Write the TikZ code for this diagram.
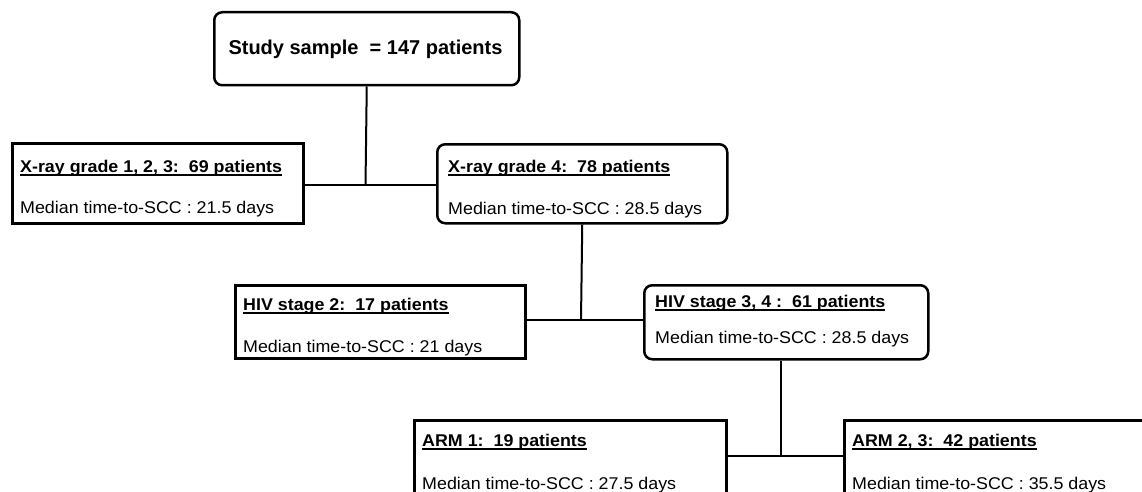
\documentclass[tikz,border=0pt]{standalone}
\usepackage{fontspec}
\setmainfont{Liberation Sans}
\newfontfamily\bodyf[FakeStretch=1.05]{Liberation Sans}
\newcommand\ulx[1]{\setbox0\hbox{#1}\rlap{\rule[-3.6pt]{\wd0}{1.3pt}}\box0}
\tikzset{
  sqbox/.style={draw, line width=2.5pt, inner sep=0pt, anchor=north west},
  rdbox/.style={sqbox, rounded corners=8pt},
  txt/.style={anchor=base west, inner sep=0pt, font=\bodyf\fontsize{17}{20}\selectfont},
  head/.style={txt, font=\bodyf\bfseries\fontsize{17}{20}\selectfont},
  link/.style={line width=2pt},
}
\begin{document}
\begin{tikzpicture}[x=1pt, y=-1pt]
\path[use as bounding box] (0,0) rectangle (1142,492);
\clip (0,0) rectangle (1142,492);
\fill[white] (0,0) rectangle (1142,492);

% boxes
\node[rdbox, minimum width=305pt, minimum height=73pt] (top) at (213,11) {};
\node[sqbox, minimum width=291pt, minimum height=80pt] (xr123) at (11,142) {};
\node[rdbox, minimum width=290pt, minimum height=79pt] (xr4) at (436,143) {};
\node[sqbox, minimum width=290pt, minimum height=73pt] (hiv2) at (234,284) {};
\node[rdbox, minimum width=284pt, minimum height=74pt] (hiv34) at (643,284) {};
\node[sqbox, minimum width=312pt, minimum height=85pt] (arm1) at (413,419) {};
\node[sqbox, minimum width=320pt, minimum height=85pt] (arm2) at (843,419) {};

% texts
\node[anchor=base, inner sep=0pt, font=\bfseries\fontsize{20}{24}\selectfont] (ttop) at (365.5,55) {Study sample\ \ = 147 patients};

\node[head] (h1) at (20,172) {\ulx{X-ray grade 1, 2, 3:\ \ 69 patients}};
\node[txt]  (m1) at (20,213) {Median time-to-SCC : 21.5 days};

\node[head] (h2) at (448,172) {\ulx{X-ray grade 4:\ \ 78 patients}};
\node[txt]  (m2) at (448,214) {Median time-to-SCC : 28.5 days};

\node[head] (h3) at (243,310) {\ulx{HIV stage 2:\ \ 17 patients}};
\node[txt]  (m3) at (243,352) {Median time-to-SCC : 21 days};

\node[head] (h4) at (655,307) {\ulx{HIV stage 3, 4 :\ \ 61 patients}};
\node[txt]  (m4) at (655,343) {Median time-to-SCC : 28.5 days};

\node[head] (h5) at (422,446) {\ulx{ARM 1:\ \ 19 patients}};
\node[txt]  (m5) at (422,489) {Median time-to-SCC : 27.5 days};

\node[head] (h6) at (852,446) {\ulx{ARM 2, 3:\ \ 42 patients}};
\node[txt]  (m6) at (852,489) {Median time-to-SCC : 35.5 days};

% connectors
\coordinate (j1) at (365.5,185);
\coordinate (j2) at (581,320);
\coordinate (j3) at (781,456);
\draw[link] (top.south) -- (j1);
\draw[link] (xr123.east |- j1) -- (xr4.west |- j1);
\draw[link] (xr4.south) -- (j2);
\draw[link] (hiv2.east |- j2) -- (hiv34.west |- j2);
\draw[link] (j3 |- hiv34.south) -- (j3);
\draw[link] (arm1.east |- j3) -- (arm2.west |- j3);
\end{tikzpicture}
\end{document}
